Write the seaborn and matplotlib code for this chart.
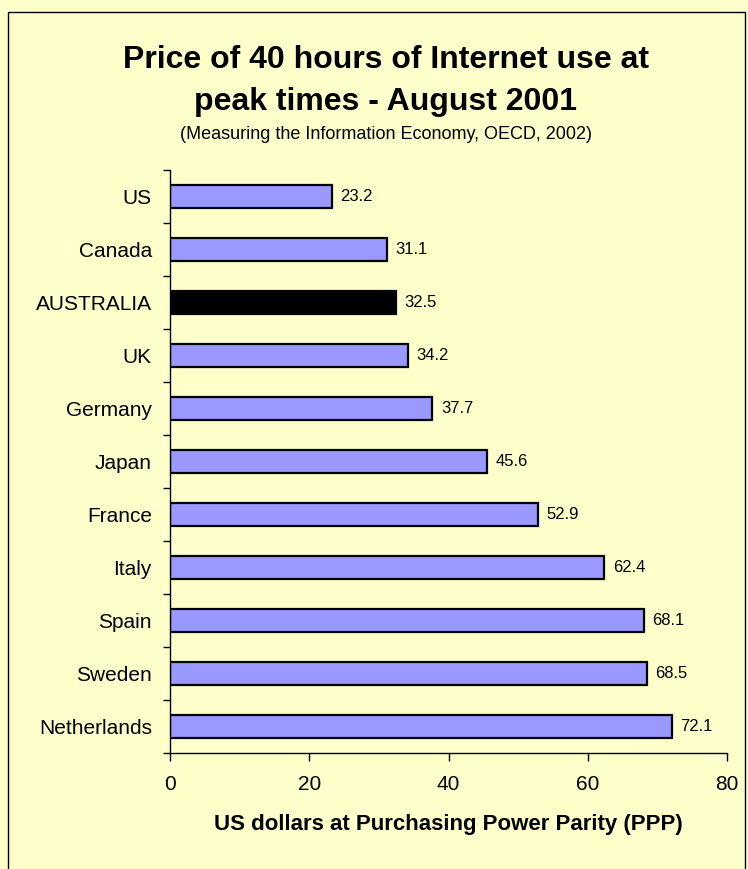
import matplotlib
matplotlib.use('Agg')
import matplotlib.pyplot as plt
import seaborn as sns
import pandas as pd
from matplotlib.patches import Rectangle

countries = ['US', 'Canada', 'AUSTRALIA', 'UK', 'Germany', 'Japan',
             'France', 'Italy', 'Spain', 'Sweden', 'Netherlands']
prices = [23.2, 31.1, 32.5, 34.2, 37.7, 45.6, 52.9, 62.4, 68.1, 68.5, 72.1]
highlight = 'AUSTRALIA'
x_ticks = [0, 20, 40, 60, 80]

bg = '#FFFFCC'
bar_col = '#9999FF'

sns.set_style('white')
plt.rcParams['font.family'] = ['Liberation Sans', 'DejaVu Sans']
plt.rcParams['text.color'] = 'black'
plt.rcParams['axes.labelcolor'] = 'black'
plt.rcParams['xtick.color'] = 'black'
plt.rcParams['ytick.color'] = 'black'

df = pd.DataFrame({'country': countries, 'price': prices})
palette = {c: ('black' if c == highlight else bar_col) for c in countries}

W, H = 748, 869
fig = plt.figure(figsize=(W / 100, H / 100), dpi=100, facecolor=bg)
# axes box: x 170..727, y 170..753 (pixels)
ax = fig.add_axes([170 / W, 1 - 753 / H, 557 / W, 583 / H])
ax.set_facecolor(bg)

sns.barplot(data=df, x='price', y='country', hue='country', palette=palette,
            orient='h', width=0.43, saturation=1, edgecolor='black',
            linewidth=1.6, legend=False, ax=ax)

for cont in ax.containers:
    ax.bar_label(cont, fmt='%.1f', padding=6, fontsize=12)

ax.set_xlim(0, 80)
ax.set_xticks(x_ticks)
ax.set_ylim(len(countries) - 0.5, -0.5)
ax.set_yticks(range(len(countries)))
ax.set_yticklabels(countries)
ax.tick_params(axis='x', labelsize=15, length=6, width=1, direction='out',
               bottom=True, pad=10)
ax.tick_params(axis='y', labelsize=15, length=0, pad=13)
# separator ticks between categories
ax.set_yticks([i - 0.5 for i in range(len(countries) + 1)], minor=True)
ax.tick_params(axis='y', which='minor', length=5, width=1, direction='out', left=True)

for s in ['top', 'right']:
    ax.spines[s].set_visible(False)
for s in ['left', 'bottom']:
    ax.spines[s].set_color('black')
    ax.spines[s].set_linewidth(1)

ax.set_ylabel('')
ax.set_xlabel('US dollars at Purchasing Power Parity (PPP)', fontsize=16,
              fontweight='bold', labelpad=14)

cx = 386 / W
fig.text(cx, 1 - 68 / H, 'Price of 40 hours of Internet use at',
         ha='center', va='baseline', fontsize=23, fontweight='bold')
fig.text(cx, 1 - 110 / H, 'peak times - August 2001',
         ha='center', va='baseline', fontsize=23, fontweight='bold')
fig.text(cx, 1 - 139 / H, '(Measuring the Information Economy, OECD, 2002)',
         ha='center', va='baseline', fontsize=13)

fig.patches.append(Rectangle((7.5 / W, -0.05), 737 / W, 1.05 - 11.5 / H,
                             transform=fig.transFigure, fill=False,
                             edgecolor='black', linewidth=1))

fig.savefig('out.png', dpi=100, facecolor=bg)
